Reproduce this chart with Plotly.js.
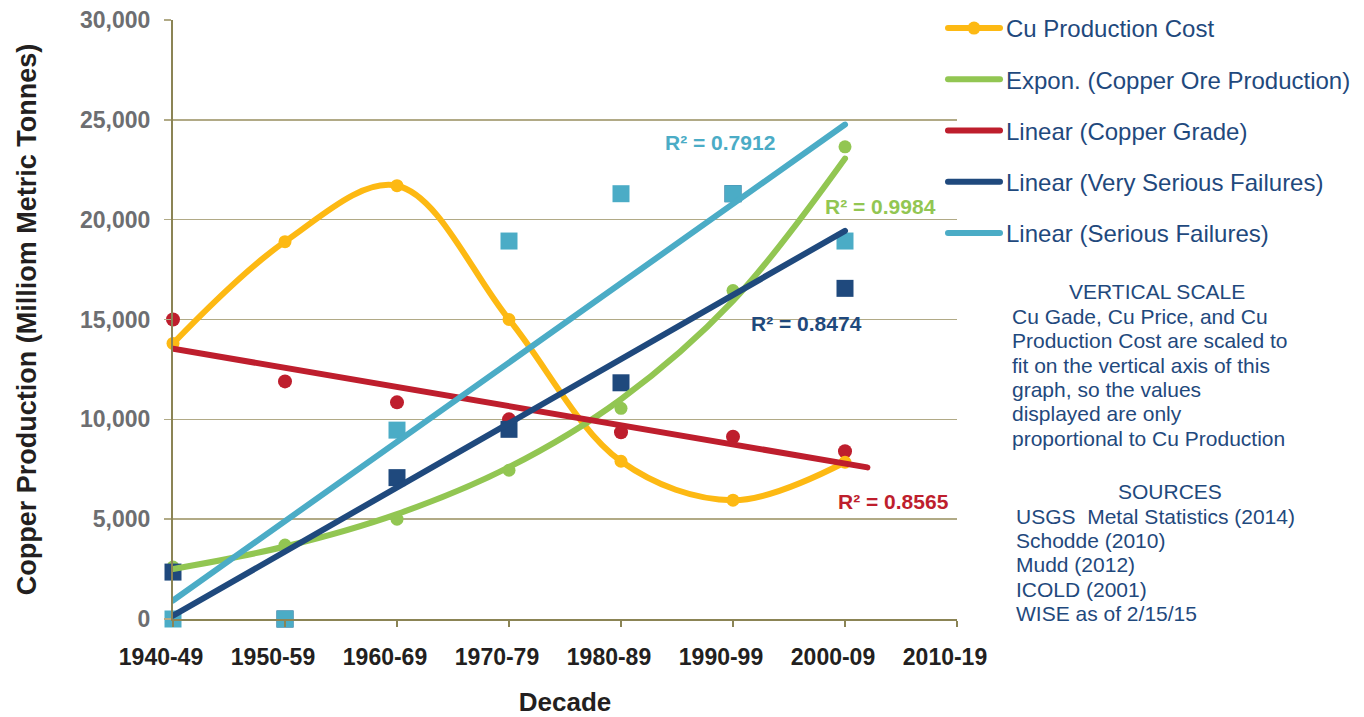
<!DOCTYPE html>
<html>
<head>
<meta charset="utf-8">
<script src="https://cdn.plot.ly/plotly-3.0.1.min.js"></script>
<style>
  html, body { margin: 0; padding: 0; background: #ffffff; }
  #chart { width: 1364px; height: 717px; }
  path.js-line { stroke-linecap: round; stroke-linejoin: round; }
</style>
</head>
<body>
<div id="chart"></div>
<script>
// ---------------- data ----------------
const decades = ['1940-49', '1950-59', '1960-69', '1970-79', '1980-89', '1990-99', '2000-09', '2010-19'];
const cuProductionCost   = [13800, 18900, 21700, 15000, 7900, 5950, 7850];
const copperOreProduction = [2600, 3700, 5000, 7450, 10550, 16450, 23650];
const copperGrade        = [15000, 11900, 10850, 10000, 9350, 9130, 8400];
const verySeriousFailures = [2350, 0, 7080, 9500, 11830, 21300, 16560];
const seriousFailures    = [0, 0, 9460, 18930, 21300, 21300, 18930];
const seriesNames = ['Cu Production Cost', 'Expon. (Copper Ore Production)', 'Linear (Copper Grade)',
                     'Linear (Very Serious Failures)', 'Linear (Serious Failures)'];
const rSquaredLabels = ['R² = 0.7912', 'R² = 0.9984', 'R² = 0.8474', 'R² = 0.8565'];
const noteTitle = 'VERTICAL SCALE';
const noteLines = ['Cu Gade, Cu Price, and Cu', 'Production Cost are scaled to', 'fit on the vertical axis of this',
                   'graph, so the values', 'displayed are only', 'proportional to Cu Production'];
const sourcesTitle = 'SOURCES';
const sourcesLines = ['USGS  Metal Statistics (2014)', 'Schodde (2010)', 'Mudd (2012)', 'ICOLD (2001)', 'WISE as of 2/15/15'];

// ---------------- styling ----------------
const C = {
  yellow: '#FDB913', green: '#92C652', red: '#BE1E2D', navy: '#1F497D', sky: '#4BACC6',
  grid: '#B1AA86', axis: '#8B8455', text: '#1F497D', tickGray: '#6D6E71', black: '#231F20'
};
const FONT = 'Liberation Sans, Arial, Helvetica, sans-serif';

// ---------------- trendlines (least-squares fits of the data, like the spreadsheet) ----------------
const xs = cuProductionCost.map((_, i) => i);
function linFit(ys) {
  const n = ys.length, mx = xs.reduce((a, b) => a + b, 0) / n, my = ys.reduce((a, b) => a + b, 0) / n;
  let sxy = 0, sxx = 0;
  ys.forEach((y, i) => { sxy += (xs[i] - mx) * (y - my); sxx += (xs[i] - mx) ** 2; });
  const b = sxy / sxx; return { a: my - b * mx, b };
}
function expFit(ys) {
  const f = linFit(ys.map(Math.log));
  return { a: Math.exp(f.a), b: f.b };
}
const gradeForward = 0.2; // forecast-forward option of the grade trendline
const lastX = xs[xs.length - 1];
const gFit = expFit(copperOreProduction);
const rFit = linFit(copperGrade);
const nFit = linFit(verySeriousFailures);
const sFit = linFit(seriousFailures);
const rEnds = [xs[0], lastX + gradeForward];
const fEnds = [xs[0], lastX];

// ---------------- traces ----------------
const markerTrace = (ys, color, symbol, size) => ({
  x: xs, y: ys, type: 'scatter', mode: 'markers', showlegend: false, hoverinfo: 'skip', cliponaxis: false,
  marker: { color, symbol, size, line: { width: 0 } }
});
const traces = [
  markerTrace(copperGrade, C.red, 'circle', 14),
  markerTrace(copperOreProduction, C.green, 'circle', 13),
  markerTrace(verySeriousFailures, C.navy, 'square', 17),
  markerTrace(seriousFailures, C.sky, 'square', 17),
  {
    x: xs, y: cuProductionCost, type: 'scatter', mode: 'lines+markers', name: seriesNames[0],
    legendgroup: 'g1', legendrank: 1, cliponaxis: false,
    line: { color: C.yellow, width: 6, shape: 'spline', smoothing: 1 },
    marker: { color: C.yellow, size: 13 }
  },
  {
    x: xs, y: xs.map(x => gFit.a * Math.exp(gFit.b * x)), type: 'scatter', mode: 'lines', name: seriesNames[1],
    legendgroup: 'g2', legendrank: 2, cliponaxis: false,
    line: { color: C.green, width: 6, shape: 'spline', smoothing: 1 }
  },
  {
    x: rEnds, y: rEnds.map(x => rFit.a + rFit.b * x), type: 'scatter', mode: 'lines', name: seriesNames[2],
    legendgroup: 'g3', legendrank: 3, cliponaxis: false, line: { color: C.red, width: 6 }
  },
  {
    x: fEnds, y: fEnds.map(x => nFit.a + nFit.b * x), type: 'scatter', mode: 'lines', name: seriesNames[3],
    legendgroup: 'g4', legendrank: 4, cliponaxis: false, line: { color: C.navy, width: 6 }
  },
  {
    x: fEnds, y: fEnds.map(x => sFit.a + sFit.b * x), type: 'scatter', mode: 'lines', name: seriesNames[4],
    legendgroup: 'g5', legendrank: 5, cliponaxis: false, line: { color: C.sky, width: 6 }
  }
];

// ---------------- annotations (pixel placement helpers) ----------------
const PL = 173, PR = 957, PT = 20, PB = 619;
const px = X => (X - PL) / (PR - PL);
const py = Y => (PB - Y) / (PB - PT);
const ann = (text, X, Y, color, size, bold, xanchor) => ({
  text, x: px(X), y: py(Y), xref: 'paper', yref: 'paper', showarrow: false,
  xanchor: xanchor || 'center', yanchor: 'middle',
  font: { family: FONT, size, color, weight: bold ? 'bold' : 'normal' }
});
const annotations = [
  ann(rSquaredLabels[0], 720, 143, C.sky, 21, true),
  ann(rSquaredLabels[1], 880, 207, C.green, 21, true),
  ann(rSquaredLabels[2], 806, 323, C.navy, 21, true),
  ann(rSquaredLabels[3], 893, 501, C.red, 21, true),
  ann(noteTitle, 1157, 291, C.text, 21, false)
];
noteLines.forEach((t, i) => annotations.push(ann(t, 1010, 316.5 + i * 24.3, C.text, 21, false, 'left')));
annotations.push(ann(sourcesTitle, 1170, 491, C.text, 21, false));
sourcesLines.forEach((t, i) => annotations.push(ann(t, 1014, 516.5 + i * 24.2, C.text, 21, false, 'left')));

const layout = {
  width: 1364, height: 717,
  paper_bgcolor: '#ffffff', plot_bgcolor: '#ffffff',
  margin: { l: PL, r: 1364 - PR, t: PT, b: 717 - PB, autoexpand: false },
  font: { family: FONT },
  showlegend: true,
  legend: {
    xref: 'container', yref: 'container', x: 938 / 1364, y: 1 - 6 / 717, xanchor: 'left', yanchor: 'top',
    traceorder: 'grouped', tracegroupgap: 17, bgcolor: 'rgba(0,0,0,0)', itemwidth: 58,
    font: { family: FONT, size: 24, color: C.text }
  },
  xaxis: {
    range: [0, decades.length - 1], tickvals: decades.map((_, i) => i), ticktext: decades,
    showgrid: false, zeroline: false, showline: true, linecolor: C.axis, linewidth: 2,
    ticks: 'outside', ticklen: 6, tickcolor: C.axis, tickwidth: 1.5, ticklabelstandoff: 10, ticklabelshift: -12,
    tickfont: { family: FONT, size: 23, color: C.black, weight: 'bold' },
    title: { text: 'Decade', standoff: 25, font: { family: FONT, size: 26, color: C.black, weight: 'bold' } },
    fixedrange: true
  },
  yaxis: {
    range: [0, 30000], dtick: 5000, tick0: 0, tickformat: ',',
    showgrid: true, gridcolor: C.grid, gridwidth: 1.5, zeroline: false,
    showline: true, linecolor: C.axis, linewidth: 2,
    ticks: 'outside', ticklen: 7, tickcolor: C.grid, tickwidth: 1.5, ticklabelstandoff: 9,
    tickfont: { family: FONT, size: 23, color: C.tickGray, weight: 'bold' },
    title: { text: 'Copper Production (Milliom Metric Tonnes)', standoff: 36,
             font: { family: FONT, size: 27, color: C.black, weight: 'bold' } },
    fixedrange: true
  },
  annotations,
  hovermode: false
};

Plotly.newPlot('chart', traces, layout, { displayModeBar: false, staticPlot: true }).then(gd => {
  // longer legend sample lines, as in the original spreadsheet legend
  gd.querySelectorAll('.legend .legendlines path.js-line').forEach(p => p.setAttribute('d', 'M10,0h52'));
  gd.querySelectorAll('.legend .legendpoints path.scatterpts').forEach(p => p.setAttribute('transform', 'translate(36,0)'));
});
</script>
</body>
</html>
